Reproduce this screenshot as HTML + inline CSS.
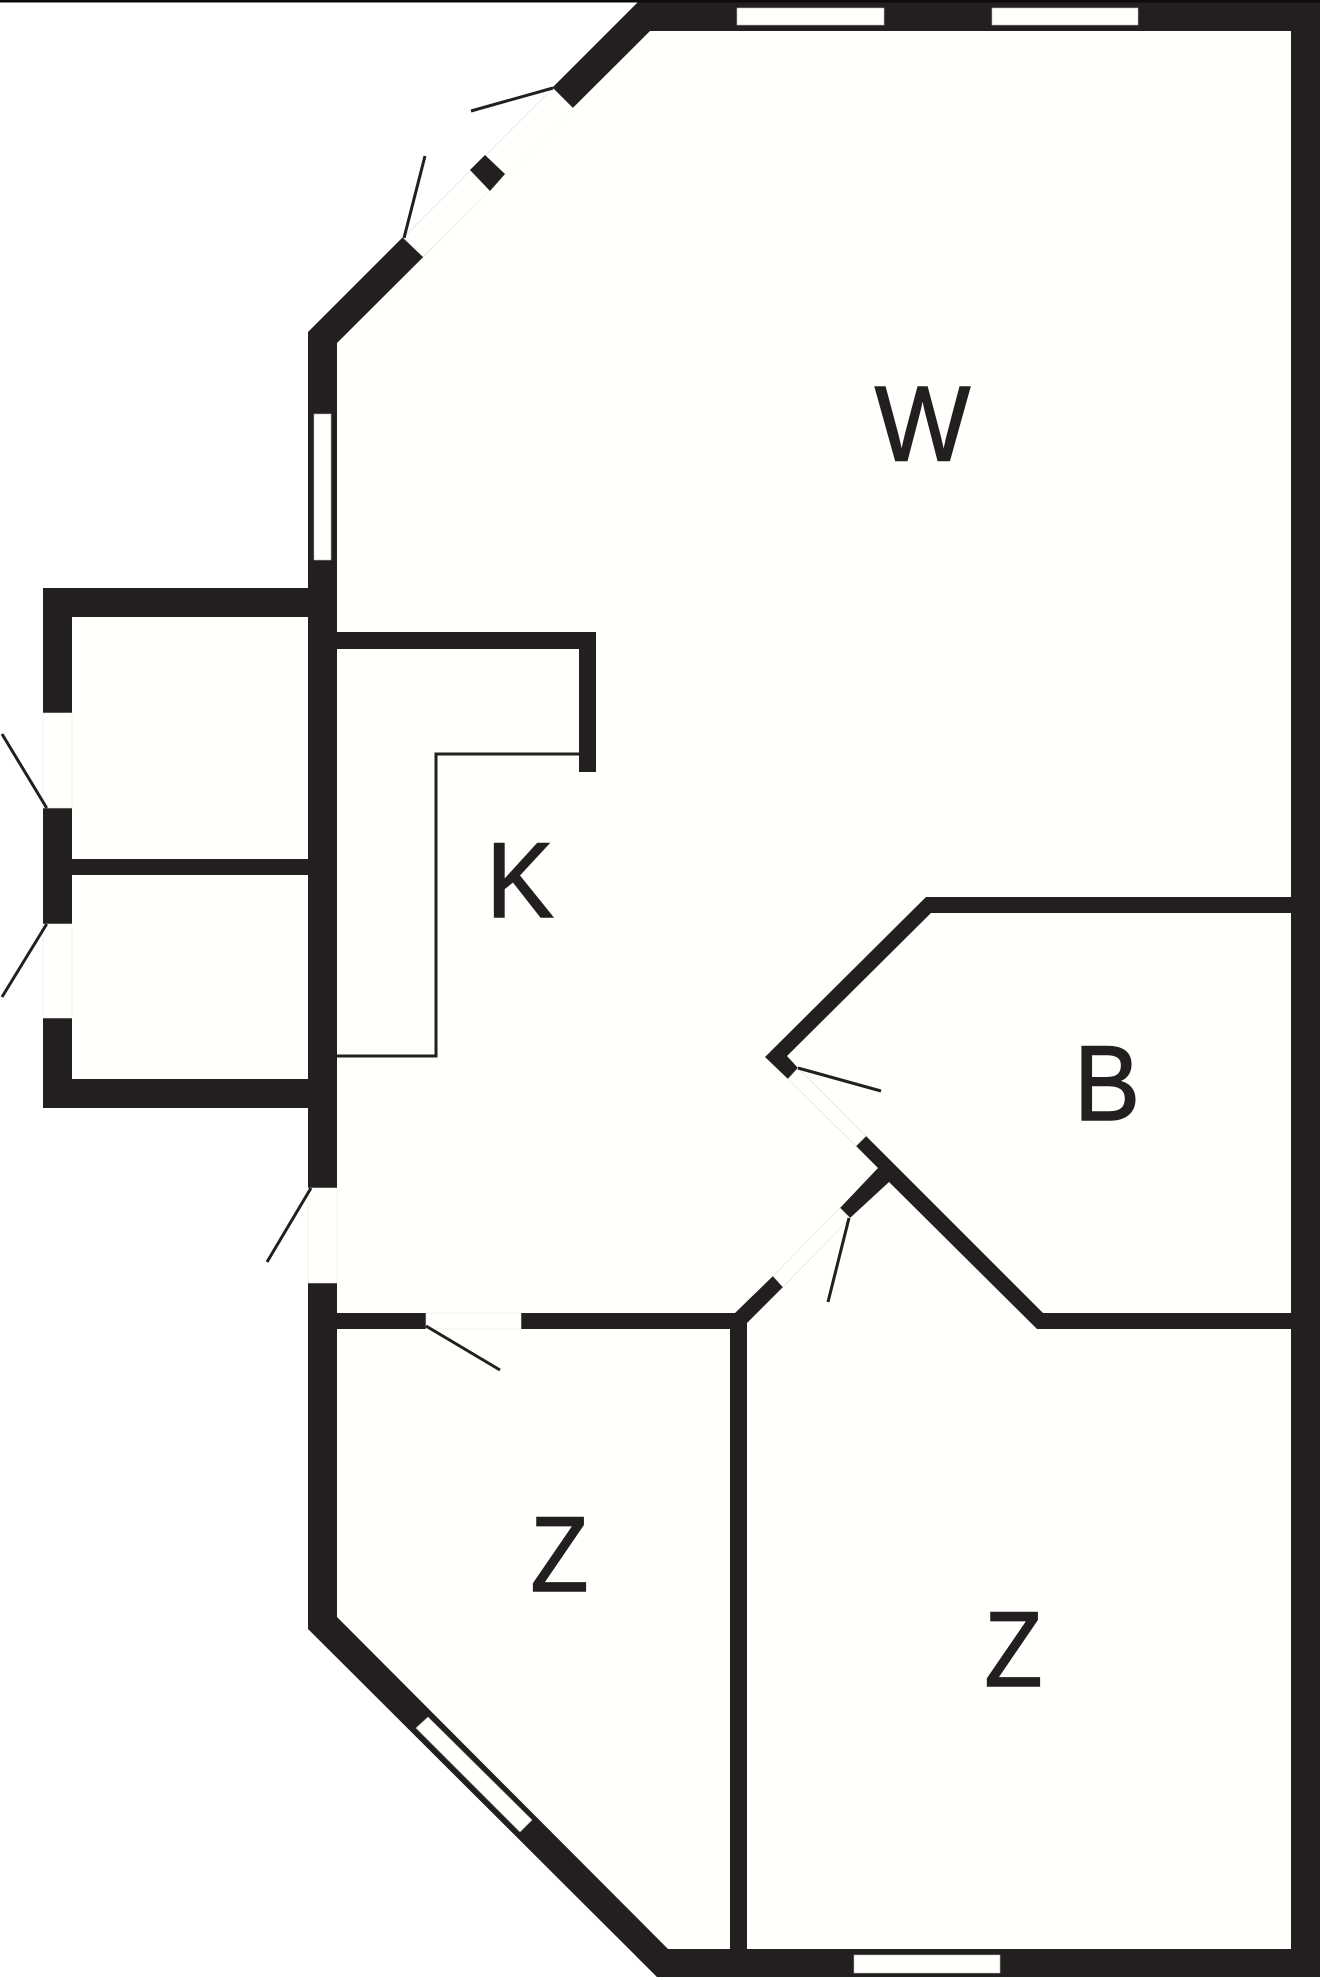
<!DOCTYPE html>
<html>
<head>
<meta charset="utf-8">
<title>Floor plan</title>
<style>
html,body{margin:0;padding:0;background:#fff;}
svg{display:block;}
text{font-family:"Liberation Sans",sans-serif;font-size:106.5px;fill:#231f20;stroke:#231f20;stroke-width:1.5;text-anchor:middle;}
</style>
</head>
<body>
<svg width="1320" height="1980" viewBox="0 0 1320 1980" xmlns="http://www.w3.org/2000/svg">
<rect width="1320" height="1980" fill="#fff"/>
<!-- footprint -->
<polygon fill="#231f20" points="640,0 1320,0 1320,1977 657,1977 308,1629 308,1108 43,1108 43,588 308,588 308,332"/>
<rect x="0" y="0" width="1320" height="2.5" fill="#0c0a0a"/>
<!-- interior -->
<polygon fill="#fffffb" points="650,31 1291,31 1291,1949 668,1949 337,1617 337,343"/>
<rect x="72" y="617" width="236" height="462" fill="#fffffb"/>
<!-- inner walls -->
<g fill="#231f20">
<rect x="72" y="859" width="236" height="16"/>
<polygon points="337,632 596,632 596,772 579,772 579,649 337,649"/>
<polygon points="1291,897 926,897 765,1057 788,1079 798,1068 787,1056 931,913 1291,913"/>
<polygon points="866,1136 1043,1313 1291,1313 1291,1329 1037,1329 889,1182 850,1218 840,1208 878,1168 856,1146"/>
<polygon points="521,1313 735,1313 773,1276 783,1287 747,1323 747,1949 730,1949 730,1329 521,1329"/>
<rect x="337" y="1313" width="89" height="16"/>
</g>
<polyline points="337,1056 436,1056 436,754 579,754" fill="none" stroke="#231f20" stroke-width="3"/>
<!-- openings -->
<polygon fill="#fff" points="550,85 573,108 423,257 400,235"/>
<polygon fill="#fffffb" points="553,94 573,108 423,257 410,238"/>
<g fill="#fffffb" stroke="#e8e8e4" stroke-width="0.6">
<rect x="308" y="1188" width="29" height="95"/>
<rect x="43" y="713" width="29" height="95"/>
<rect x="43" y="924" width="29" height="94"/>
<rect x="426" y="1313" width="95" height="16"/>
<polygon points="798,1068 866,1136 856,1146 788,1079" stroke="#e0e0dc"/>
<polygon points="840,1208 850,1218 783,1287 773,1276" stroke="#e0e0dc"/>
</g>
<line x1="553" y1="88" x2="403" y2="238" stroke="#dcdcd8" stroke-width="0.6"/>
<!-- windows -->
<g fill="#fffffb" stroke="#bdbdb8" stroke-width="0.6">
<rect x="737" y="8" width="147" height="17"/>
<rect x="992" y="8" width="146" height="17"/>
<rect x="854" y="1955" width="146" height="18"/>
<rect x="314" y="414" width="17" height="146"/>
<polygon points="416,1728 428,1717 532,1820 520,1832"/>
</g>
<!-- mullion -->
<polygon fill="#231f20" points="470,170 485,155 505,174 490,191"/>
<!-- door leaves -->
<g stroke="#231f20" stroke-width="3" fill="none">
<line x1="553" y1="88" x2="471" y2="111"/>
<line x1="404" y1="238" x2="425" y2="156"/>
<line x1="46.7" y1="808" x2="2" y2="734"/>
<line x1="46.7" y1="924" x2="2" y2="997"/>
<line x1="311" y1="1188" x2="267" y2="1262"/>
<line x1="426" y1="1326" x2="500" y2="1370"/>
<line x1="798" y1="1068" x2="881" y2="1091"/>
<line x1="849" y1="1218" x2="828" y2="1302"/>
</g>
<!-- labels -->
<text transform="translate(922.5,460.5) scale(0.95,1)">W</text>
<text transform="translate(520,917) scale(0.95,1)">K</text>
<text transform="translate(1107,1120) scale(0.93,1)">B</text>
<text transform="translate(559.5,1591) scale(0.89,1)">Z</text>
<text transform="translate(1013.5,1686) scale(0.89,1)">Z</text>
</svg>
</body>
</html>
